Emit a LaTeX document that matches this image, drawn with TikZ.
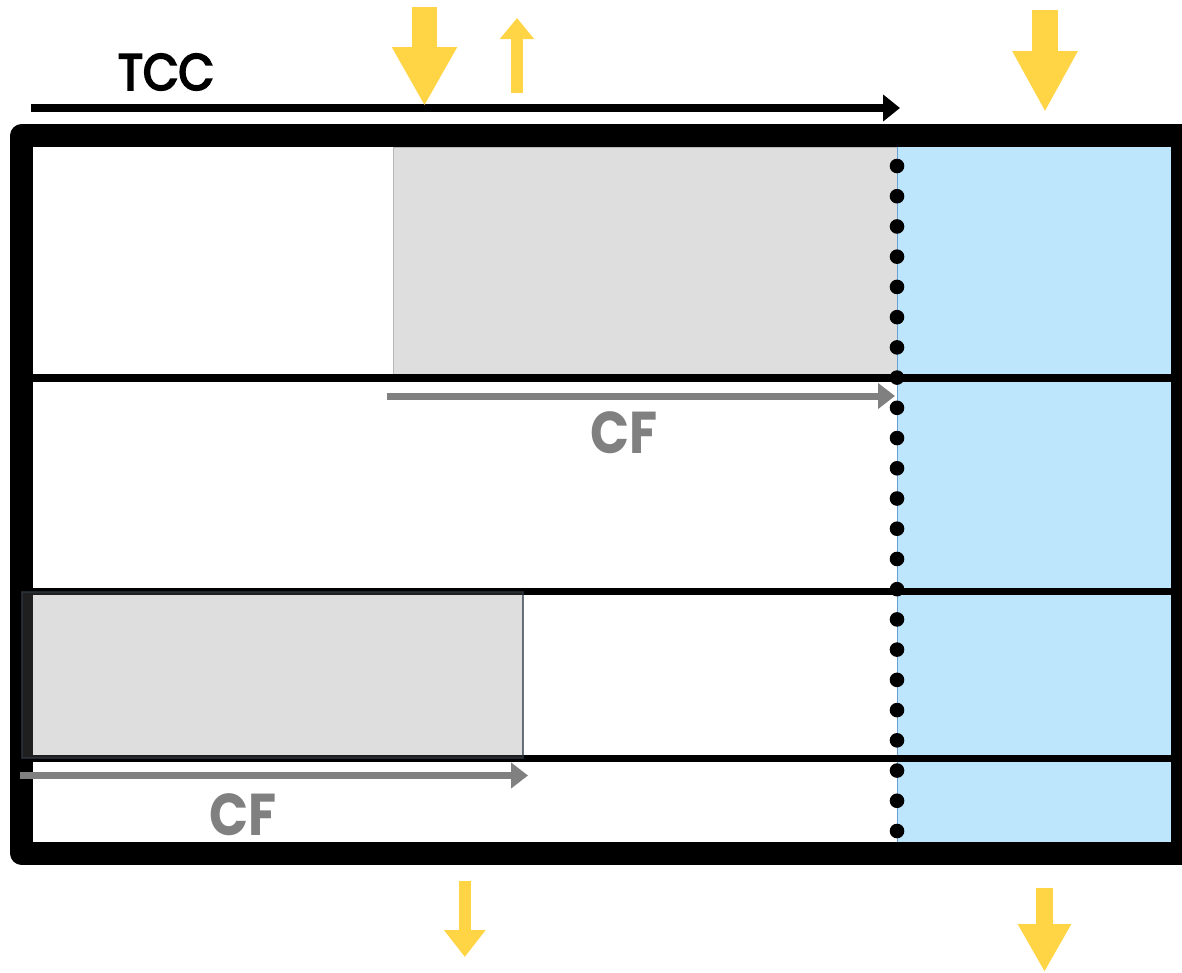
\documentclass[tikz,border=0pt]{standalone}
\usepackage{fontspec}
\setmainfont{Poppins}
\newfontfamily\tccfont{Poppins}[FakeStretch=0.9, FakeBold=4]
\newfontfamily\cffont{Poppins}[FakeStretch=0.87]
\usetikzlibrary{arrows.meta}
\definecolor{yel}{HTML}{FFD545}
\definecolor{skyb}{HTML}{BDE5FC}
\definecolor{boxg}{HTML}{DEDEDE}
\definecolor{boxedge}{HTML}{B8B8B8}
\definecolor{cfg}{HTML}{808080}
\definecolor{bline}{HTML}{6A9FD4}
\definecolor{rectfill}{HTML}{7C7C7C}
\definecolor{rectedge}{HTML}{2D3742}
\tikzset{
  blockarrow/.style n args={3}{draw=yel, line width=#1, -{Triangle[length=#2, width=#3, fill=yel]}},
  flowarrow/.style={line width=8, -{Triangle[length=17pt, width=26pt]}},
  cfarrow/.style={draw=cfg, line width=7, -{Triangle[length=17pt, width=25pt, fill=cfg]}},
  rowline/.style={line width=7.5},
  frameline/.style={line width=22.5, line join=round},
  cflabel/.style={text=cfg, font=\cffont\fontsize{59}{59}\selectfont\bfseries, inner sep=0pt},
  tcclabel/.style={text=black, font=\tccfont\fontsize{51}{51}\selectfont, inner sep=0pt}
}
\begin{document}
\begin{tikzpicture}[x=1pt, y=-1pt]
\useasboundingbox (0,0) rectangle (1182,972);

% regions
\fill[skyb] (897,147) rectangle (1171,842);
\filldraw[fill=boxg, draw=boxedge, line width=0.8] (393,147) rectangle (897,378);
\draw[bline, line width=1] (897,147) -- (897,842);

% row lines
\draw[rowline] (33,378) -- (1171,378);
\draw[rowline] (33,591.5) -- (1171,591.5);
\draw[rowline] (33,758.5) -- (1171,758.5);

% outer frame
\draw[frameline] (21.7,135.5) rectangle (1182.5,853.5);

% lower grey box (semi-transparent, over the frame)
\path[fill=rectfill, fill opacity=0.25, draw=rectedge, draw opacity=0.7, line width=1.5] (22,592) rectangle (523,758);

% dotted boundary
\foreach \i in {0,...,22}
  \fill (897,{166+30.227*\i}) circle (7.3);

% TCC arrow and label
\coordinate (tccL) at (31,108);
\coordinate (tccR) at (900,108);
\draw[flowarrow] (tccL) -- (tccR);
\node[tcclabel] (tcc) at (166,72) {TCC};

% CF arrows and labels
\coordinate (cf1L) at (387,396);
\coordinate (cf1R) at (895,396);
\draw[cfarrow] (cf1L) -- (cf1R);
\node[cflabel] (cf1) at (624,432.5) {CF};
\coordinate (cf2L) at (20,775.5);
\coordinate (cf2R) at (528,775.5);
\draw[cfarrow] (cf2L) -- (cf2R);
\node[cflabel] (cf2) at (243,814.5) {CF};

% yellow arrows
\coordinate (y1a) at (424.5,7);   \coordinate (y1b) at (424.5,106);
\coordinate (y2a) at (517,93);    \coordinate (y2b) at (517,18);
\coordinate (y3a) at (1045,10);   \coordinate (y3b) at (1045,112);
\coordinate (y4a) at (464.8,881); \coordinate (y4b) at (464.8,957);
\coordinate (y5a) at (1044.5,888);\coordinate (y5b) at (1044.5,972);
\draw[blockarrow={25}{59pt}{61pt}] (y1a) -- (y1b);
\draw[blockarrow={12}{21pt}{33pt}] (y2a) -- (y2b);
\draw[blockarrow={26}{61pt}{61pt}] (y3a) -- (y3b);
\draw[blockarrow={12}{27pt}{40pt}] (y4a) -- (y4b);
\draw[blockarrow={17}{48pt}{50pt}] (y5a) -- (y5b);
\end{tikzpicture}
\end{document}
